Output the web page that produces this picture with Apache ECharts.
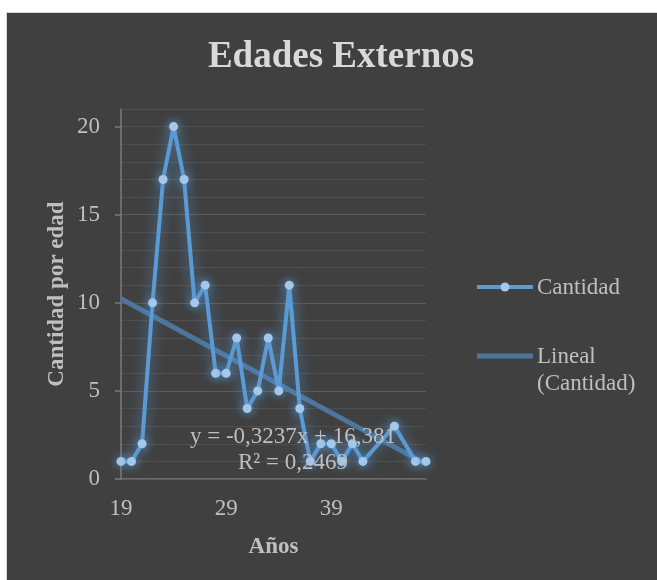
<!DOCTYPE html>
<html>
<head>
<meta charset="utf-8">
<title>Edades Externos</title>
<script src="https://cdn.jsdelivr.net/npm/echarts@6.0.0/dist/echarts.min.js"></script>
<style>
  html, body { margin: 0; padding: 0; background: #ffffff; }
  #wrap { position: relative; width: 657px; height: 580px; overflow: hidden; }
  #panel { position: absolute; left: 6px; top: 12px; right: -2px; bottom: -2px;
           background: #404040; border-left: 1px solid #d6d6d6; border-top: 1px solid #d6d6d6; }
  #chart { position: absolute; left: 0; top: 0; width: 657px; height: 580px; }
</style>
</head>
<body>
<div id="wrap"><div id="panel"></div><div id="chart"></div></div>
<script>
// Ages present in the sample and the number of people at each age
const ages   = [19, 20, 21, 22, 23, 24, 25, 26, 27, 28, 29, 30, 31, 32, 33, 34, 35, 36, 37, 38, 39, 40, 41, 42, 45, 47, 48];
const counts = [ 1,  1,  2, 10, 17, 20, 17, 10, 11,  6,  6,  8,  4,  5,  8,  5, 11,  4,  1,  2,  2,  1,  2,  1,  3,  1,  1];

// Axis tick labels
const xTickLabels = [19, 29, 39];
const yTickLabels = [0, 5, 10, 15, 20];

// Linear trend fitted to the counts
const trendSlope = -0.3237;
const trendIntercept = 16.381;
const trendR2 = 0.2469;

const seriesName = 'Cantidad';
const trendName = 'Lineal (Cantidad)';

const FONT = "'Liberation Serif', 'Times New Roman', serif";
const TEXT = '#bfbfbf';
const AXIS = '#7a7a7a';
const GRID_MAJOR = '#5c5c5c';
const GRID_MINOR = '#4f4f4f';
const LINE_BLUE = '#5b9bd5';
const MARKER_BLUE = '#a3c8ec';
const TREND_BLUE = '#4e759d';

const Y_MAX = 21;

const points = ages.map((a, i) => [a, counts[i]]);
const xMin = ages[0], xMax = ages[ages.length - 1];
const trendPoints = [xMin, xMax].map(x => [x, trendSlope * x + trendIntercept]);

const fmt = v => String(v).replace('.', ',');
const equation = 'y = ' + fmt(trendSlope) + 'x + ' + fmt(trendIntercept) + '\nR² = ' + fmt(trendR2);

const chart = echarts.init(document.getElementById('chart'), null, { renderer: 'canvas' });

chart.setOption({
  animation: false,
  backgroundColor: 'transparent',
  grid: { left: 121, top: 109, width: 305, height: 370, containLabel: false },
  xAxis: {
    type: 'value',
    min: xMin,
    max: xMax,
    axisLine: { show: true, onZero: false, lineStyle: { color: AXIS, width: 1.5 } },
    axisTick: { show: false },
    splitLine: { show: false },
    axisLabel: { customValues: xTickLabels, color: TEXT, fontSize: 23, fontFamily: FONT, margin: 18 },
    name: 'Años',
    nameLocation: 'middle',
    nameGap: 57,
    nameTextStyle: { color: TEXT, fontSize: 23, fontWeight: 'bold', fontFamily: FONT }
  },
  yAxis: [
    {
      // main value axis: labels, ticks and major gridlines every 5
      type: 'value',
      min: 0,
      max: Y_MAX,
      interval: 5,
      z: 2,
      axisLine: { show: true, lineStyle: { color: AXIS, width: 1.5 } },
      axisTick: { show: true, customValues: yTickLabels, length: 6, lineStyle: { color: AXIS, width: 1.5 } },
      axisLabel: { customValues: yTickLabels, color: TEXT, fontSize: 23, fontFamily: FONT, margin: 21 },
      splitLine: { show: true, showMaxLine: false, lineStyle: { color: GRID_MAJOR, width: 1 } },
      name: 'Cantidad por edad',
      nameLocation: 'middle',
      nameRotate: 90,
      nameGap: 52,
      nameTextStyle: { color: TEXT, fontSize: 23, fontWeight: 'bold', fontFamily: FONT }
    },
    {
      // minor gridlines every unit
      type: 'value',
      min: 0,
      max: Y_MAX,
      interval: 1,
      z: 1,
      position: 'left',
      axisLine: { show: false },
      axisTick: { show: false },
      axisLabel: { show: false },
      splitLine: { show: true, lineStyle: { color: GRID_MINOR, width: 1 } }
    }
  ],
  series: [
    {
      name: trendName,
      type: 'line',
      data: trendPoints,
      symbol: 'none',
      silent: true,
      z: 2,
      lineStyle: { color: TREND_BLUE, width: 5 }
    },
    {
      name: seriesName,
      type: 'line',
      data: points,
      symbol: 'circle',
      symbolSize: 9,
      z: 3,
      lineStyle: { color: LINE_BLUE, width: 4, shadowBlur: 14, shadowColor: 'rgba(91,155,213,0.8)' },
      itemStyle: { color: MARKER_BLUE, borderWidth: 0, shadowBlur: 10, shadowColor: 'rgba(91,155,213,0.95)' }
    }
  ],
  graphic: [
    {
      type: 'text', x: 341, y: 57, z: 10,
      style: { text: 'Edades Externos', fill: '#d9d9d9', font: 'bold 37px ' + FONT, align: 'center', verticalAlign: 'middle' }
    },
    {
      type: 'text', x: 293, y: 450, z: 10,
      style: { text: equation, fill: TEXT, font: '23px ' + FONT, lineHeight: 26, align: 'center', verticalAlign: 'middle' }
    },
    // legend: data series
    { type: 'line', z: 10, shape: { x1: 477, y1: 287, x2: 533, y2: 287 }, style: { stroke: LINE_BLUE, lineWidth: 4 } },
    { type: 'circle', z: 11, shape: { cx: 505, cy: 287, r: 4.5 }, style: { fill: MARKER_BLUE } },
    { type: 'text', x: 537, y: 288, z: 10,
      style: { text: seriesName, fill: TEXT, font: '23px ' + FONT, align: 'left', verticalAlign: 'middle' } },
    // legend: trend line
    { type: 'line', z: 10, shape: { x1: 477, y1: 356, x2: 533, y2: 356 }, style: { stroke: TREND_BLUE, lineWidth: 5 } },
    { type: 'text', x: 537, y: 357, z: 10,
      style: { text: 'Lineal', fill: TEXT, font: '23px ' + FONT, align: 'left', verticalAlign: 'middle' } },
    { type: 'text', x: 537, y: 384, z: 10,
      style: { text: '(Cantidad)', fill: TEXT, font: '23px ' + FONT, align: 'left', verticalAlign: 'middle' } }
  ]
});
</script>
</body>
</html>
